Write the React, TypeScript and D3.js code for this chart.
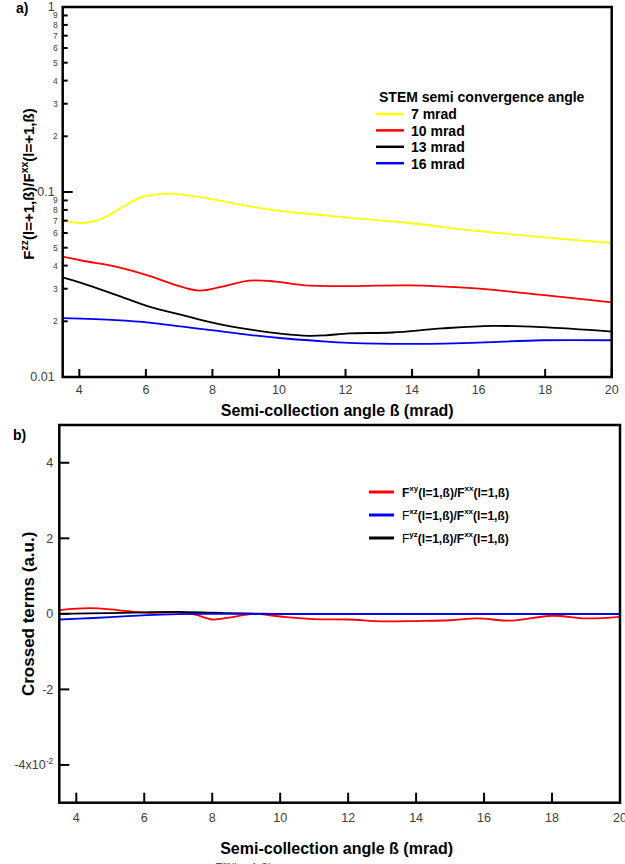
import React from 'react';
import * as d3 from 'd3';

const W = 625;
const H = 864;
const FONT = '"Liberation Sans", Arial, Helvetica, sans-serif';
const TICK_COLOR = '#404040';

// panel a) F^zz / F^xx against the semi-collection angle, one curve per convergence angle
const conv7 = [[3.5, 0.070], [4.1, 0.068], [4.7, 0.072], [5.3, 0.083], [5.9, 0.094], [6.7, 0.098], [7.6, 0.094], [8.6, 0.087], [9.6, 0.081], [10.6, 0.077], [12.0, 0.073], [13.9, 0.068], [15.8, 0.062], [17.9, 0.057], [20.0, 0.053]];
const conv10 = [[3.5, 0.0447], [4.1, 0.0425], [5.1, 0.0395], [6.1, 0.0352], [6.9, 0.0314], [7.6, 0.0293], [8.3, 0.0308], [9.1, 0.0332], [9.9, 0.0328], [10.7, 0.0314], [12.1, 0.031], [13.9, 0.0313], [15.8, 0.0302], [17.9, 0.0278], [20.0, 0.0253]];
const conv13 = [[3.5, 0.0346], [4.1, 0.0321], [5.1, 0.0278], [6.1, 0.024], [7.1, 0.0216], [8.1, 0.0195], [9.1, 0.0181], [10.1, 0.0171], [10.9, 0.0167], [11.4, 0.0168], [12.1, 0.0172], [13.4, 0.0174], [14.9, 0.0183], [16.4, 0.0189], [17.9, 0.0186], [20.0, 0.0176]];
const conv16 = [[3.5, 0.0208], [5.1, 0.0203], [6.1, 0.0197], [7.1, 0.0187], [8.1, 0.0178], [9.1, 0.0169], [10.1, 0.0162], [11.1, 0.0157], [12.1, 0.0153], [13.9, 0.0151], [15.8, 0.0153], [17.9, 0.0158], [20.0, 0.0158]];

const convSeries = [conv7, conv10, conv13, conv16];
const convLabels = ['7 mrad', '10 mrad', '13 mrad', '16 mrad'];
const convColors = ['#ffff00', '#ff0000', '#000000', '#0000ff'];

// panel b) crossed terms, in units of 1e-2
const crossXY = [[3.5, 0.1], [4.4, 0.15], [5.2, 0.1], [6.0, 0.03], [7.0, 0.04], [7.5, -0.02], [8.0, -0.15], [8.5, -0.1], [9.2, 0.0], [10.0, -0.07], [11.0, -0.14], [12.0, -0.15], [13.0, -0.2], [14.0, -0.19], [15.0, -0.17], [15.8, -0.12], [16.8, -0.18], [18.0, -0.05], [19.0, -0.12], [20.0, -0.08]];
const crossYZ = [[3.5, 0.0], [5.0, 0.02], [6.0, 0.04], [7.0, 0.05], [8.0, 0.03], [9.0, 0.01], [10.0, 0.0], [13.0, 0.0], [20.0, 0.0]];
const crossXZ = [[3.5, -0.15], [4.5, -0.11], [5.5, -0.06], [6.5, -0.02], [7.5, 0.0], [9.0, 0.0], [20.0, 0.0]];

const crossSeries = [crossXY, crossXZ, crossYZ];
const crossColors = ['#ff0000', '#0000ff', '#000000'];
const crossSup = ['xy', 'xz', 'yz'];
const crossDrawOrder = [0, 2, 1];

const xTicks = [4, 6, 8, 10, 12, 14, 16, 18, 20];
const logMajors = [0.01, 0.1, 1];
const logMajorLabels = ['0.01', '0.1', '1'];
const minorDigits = [2, 3, 4, 5, 6, 7, 8, 9];
const crossTicks = [-4, -2, 0, 2, 4];

export default function App() {
  // panel a geometry
  const ax = d3.scaleLinear().domain([3.5, 20]).range([62.7, 611.7]);
  const ay = d3.scaleLog().domain([0.01, 1]).range([377, 7]);
  // panel b geometry
  const bx = d3.scaleLinear().domain([3.5, 20]).range([59.3, 620]);
  const by = d3.scaleLinear().domain([-5, 5]).range([802.7, 425]);

  const lineA = d3.line<number[]>().x((d) => ax(d[0])).y((d) => ay(d[1])).curve(d3.curveCatmullRom.alpha(0.5));
  const lineB = d3.line<number[]>().x((d) => bx(d[0])).y((d) => by(d[1])).curve(d3.curveCatmullRom.alpha(0.5));

  const minorTicks = [0.01, 0.1].flatMap((dec) => minorDigits.map((m) => ({ v: dec * m, label: String(m) })));

  const [a0, a1] = ax.range();
  const [b0, b1] = bx.range();

  return (
    <svg width={W} height={H} style={{ position: 'absolute', left: 0, top: 0, background: '#fff' }} fontFamily={FONT}>
      <rect width={W} height={H} fill="#fff" />

      {/* ---------- panel a ---------- */}
      <text x={16} y={13} fontSize={14} fontWeight="bold">a)</text>

      {convSeries.map((s, i) => (
        <path key={i} d={lineA(s) || ''} fill="none" stroke={convColors[i]} strokeWidth={1.8} />
      ))}

      {/* frame */}
      <rect x={a0} y={ay(1)} width={a1 - a0} height={ay(0.01) - ay(1)} fill="none" stroke="#000" strokeWidth={2.5} />

      {/* y ticks */}
      {logMajors.map((v, i) => (
        <g key={'M' + v}>
          <line x1={a0} x2={a0 + 10} y1={ay(v)} y2={ay(v)} stroke="#000" strokeWidth={2} />
          <text x={a0 - 8} y={ay(v)} dy="0.35em" textAnchor="end" fontSize={12.5} fill={TICK_COLOR}>{logMajorLabels[i]}</text>
        </g>
      ))}
      {minorTicks.map((t) => (
        <g key={'m' + t.v}>
          <line x1={a0} x2={a0 + 5} y1={ay(t.v)} y2={ay(t.v)} stroke="#000" strokeWidth={2} />
          <text x={a0 - 5} y={ay(t.v)} dy="0.35em" textAnchor="end" fontSize={8.5} fill={TICK_COLOR}>{t.label}</text>
        </g>
      ))}

      {/* x ticks */}
      {xTicks.map((t) => (
        <g key={'ax' + t}>
          <line x1={ax(t)} x2={ax(t)} y1={ay(0.01)} y2={ay(0.01) - 8} stroke="#000" strokeWidth={2} />
          <text x={ax(t)} y={394} textAnchor="middle" fontSize={12.5} fill={TICK_COLOR}>{t}</text>
        </g>
      ))}
      <text x={(a0 + a1) / 2} y={416} textAnchor="middle" fontSize={16} fontWeight="bold">Semi-collection angle ß (mrad)</text>

      <text transform="translate(34,184) rotate(-90)" textAnchor="middle" fontSize={15} fontWeight="bold">
        F<tspan dy={-6} fontSize={10.5}>zz</tspan><tspan dy={6} fontSize={15}>(l=+1,ß)/F</tspan><tspan dy={-6} fontSize={10.5}>xx</tspan><tspan dy={6} fontSize={15}>(l=+1,ß)</tspan>
      </text>

      {/* legend a */}
      <text x={379} y={102} fontSize={14} fontWeight="bold">STEM semi convergence angle</text>
      {convLabels.map((lab, i) => (
        <g key={lab} transform={`translate(376,${114 + i * 16.4})`}>
          <line x1={0} x2={28} y1={0} y2={0} stroke={convColors[i]} strokeWidth={2.5} />
          <text x={35} y={0} dy="0.38em" fontSize={14} fontWeight="bold">{lab}</text>
        </g>
      ))}

      {/* ---------- panel b ---------- */}
      <text x={13} y={440} fontSize={14} fontWeight="bold">b)</text>

      {crossDrawOrder.map((i) => (
        <path key={i} d={lineB(crossSeries[i]) || ''} fill="none" stroke={crossColors[i]} strokeWidth={1.8} />
      ))}

      <rect x={b0} y={by(5)} width={b1 - b0} height={by(-5) - by(5)} fill="none" stroke="#000" strokeWidth={2.5} />

      {crossTicks.map((t) => (
        <g key={'by' + t}>
          <line x1={b0} x2={b0 + 10} y1={by(t)} y2={by(t)} stroke="#000" strokeWidth={2} />
          <text x={b0 - 6} y={by(t)} dy="0.35em" textAnchor="end" fontSize={12.5} fill={TICK_COLOR}>
            {t === -4 ? (<>-4x10<tspan dy={-5} fontSize={8.5}>-2</tspan></>) : String(t)}
          </text>
        </g>
      ))}
      {xTicks.map((t) => (
        <g key={'bx' + t}>
          <line x1={bx(t)} x2={bx(t)} y1={by(-5)} y2={by(-5) - 10} stroke="#000" strokeWidth={2} />
          <text x={bx(t)} y={822} textAnchor="middle" fontSize={12.5} fill={TICK_COLOR}>{t}</text>
        </g>
      ))}
      <text x={(b0 + b1) / 2 - 3} y={854} textAnchor="middle" fontSize={16} fontWeight="bold">Semi-collection angle ß (mrad)</text>

      <text transform={`translate(34,${by(0)}) rotate(-90)`} textAnchor="middle" fontSize={17} fontWeight="bold">Crossed terms (a.u.)</text>

      {/* legend b */}
      {crossSup.map((sup, i) => (
        <g key={sup} transform={`translate(369,${492 + i * 23})`}>
          <line x1={0} x2={25} y1={0} y2={0} stroke={crossColors[i]} strokeWidth={3} />
          <text x={33} y={0} dy="0.38em" fontSize={12} fontWeight="bold">
            <tspan fontWeight={i === 0 ? 'bold' : 'normal'}>F</tspan><tspan dy={-6} fontSize={8}>{sup}</tspan><tspan dy={6} fontSize={12}>(l=1,ß)/F</tspan><tspan dy={-6} fontSize={8}>xx</tspan><tspan dy={6} fontSize={12}>(l=1,ß)</tspan>
          </text>
        </g>
      ))}

      {/* caption cut by the page edge */}
      <text x={215} y={872} fontSize={12} fill="#555">
        F<tspan dy={-5} fontSize={8}>zz</tspan><tspan dy={5} fontSize={12}>(l=+1,ß)</tspan>
      </text>
    </svg>
  );
}
